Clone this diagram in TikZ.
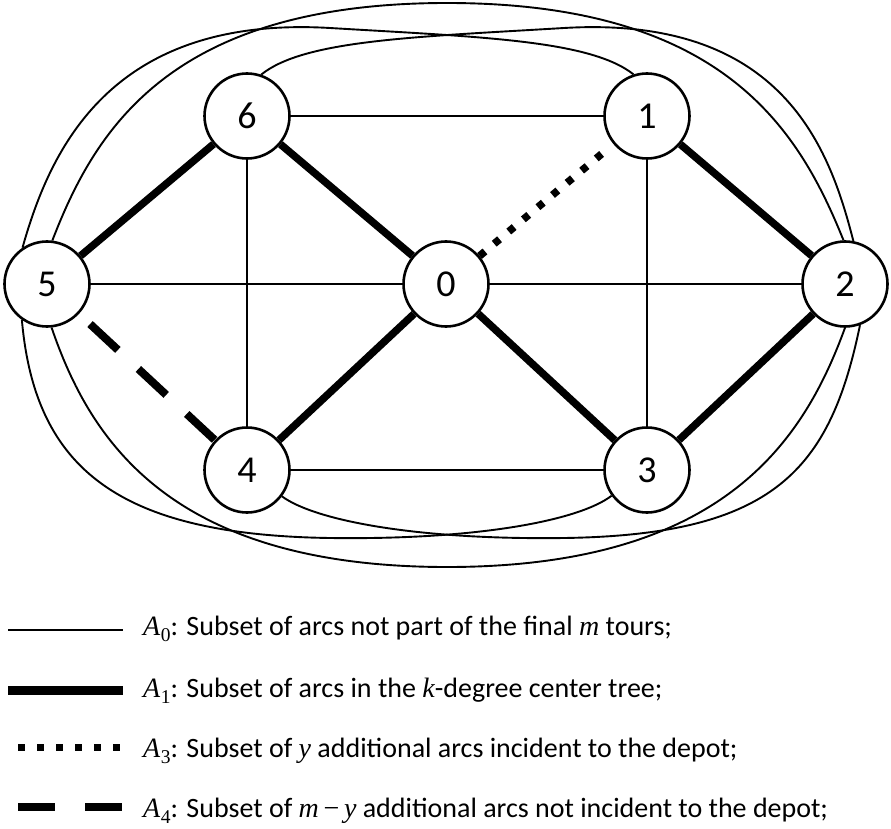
\documentclass[tikz,border=0pt]{standalone}
\usepackage{fontspec}
\setmainfont{Carlito}
\newfontfamily\varfont{Liberation Serif}
% variables in italic serif, subscripts set lower and smaller
\newcommand\mv[1]{{\varfont\itshape #1}}
\newcommand\setA[1]{\mv{A}\kern0.5pt\raisebox{-0.24em}{\varfont\fontsize{19.5}{19.5}\selectfont #1}}
\begin{document}
\begin{tikzpicture}[x=1pt,y=-1pt,
  vertex/.style={circle,draw,line width=2.6pt,minimum size=85pt,inner sep=0pt,
    fill=white,font=\fontsize{38}{38}\selectfont},
  arcA0/.style={line width=1.9pt},
  arcA1/.style={line width=7.5pt},
  arcA3/.style={line width=7.5pt,dash pattern=on 7pt off 12pt},
  arcA4/.style={line width=8pt,dash pattern=on 38pt off 28pt},
  legtext/.style={anchor=base west,inner sep=0pt,font=\fontsize{28}{33}\selectfont}]
\useasboundingbox (0,0) rectangle (891,829);

% customers and depot
\node[vertex] (n6) at (247,116) {6};
\node[vertex] (n1) at (647,116) {1};
\node[vertex] (n5) at (47,284)  {5};
\node[vertex] (n0) at (446,284) {0};
\node[vertex] (n2) at (845,284) {2};
\node[vertex] (n4) at (247,470) {4};
\node[vertex] (n3) at (647,470) {3};

% A0: straight arcs
\draw[arcA0] (n6) -- (n1);
\draw[arcA0] (n6) -- (n4);
\draw[arcA0] (n1) -- (n3);
\draw[arcA0] (n5) -- (n0);
\draw[arcA0] (n0) -- (n2);
\draw[arcA0] (n4) -- (n3);

% A0: curved arcs around the outside
\draw[arcA0] (n5.83.5) .. controls (95,130) and (170,3) .. (447,3)
                       .. controls (724,3) and (799,130) .. (n2.92.6);
\draw[arcA0] (n5.124) .. controls (50,150) and (110,15) .. (330,28)
                      .. controls (480,37) and (590,40) .. (n1.108);
\draw[arcA0] (n6.71) .. controls (304,40) and (414,37) .. (564,28)
                     .. controls (784,15) and (830,150) .. (n2.79.7);
\draw[arcA0] (n5.-84) .. controls (90,440) and (170,567) .. (447,567)
                      .. controls (724,567) and (804,440) .. (n2.-90);
\draw[arcA0] (n5.235) .. controls (35,470) and (120,535) .. (330,538)
                      .. controls (480,540) and (580,520) .. (n3.216);
\draw[arcA0] (n4.-37) .. controls (314,520) and (414,540) .. (564,538)
                      .. controls (774,535) and (830,470) .. (n2.-70);

% A1: k-degree center tree
\draw[arcA1] (n6) -- (n5);
\draw[arcA1] (n6) -- (n0);
\draw[arcA1] (n1) -- (n2);
\draw[arcA1] (n0) -- (n4);
\draw[arcA1] (n0) -- (n3);
\draw[arcA1] (n3) -- (n2);

% A3 and A4: additional arcs
\draw[arcA3,shorten >=4pt] (n0) -- (n1);
\draw[arcA4,dash phase=51pt] (n5) -- (n4);

% legend
\coordinate (l0a) at (8,630);   \coordinate (l0b) at (123,630);
\coordinate (l1a) at (8,690);   \coordinate (l1b) at (123,690);
\coordinate (l3a) at (18,747);  \coordinate (l3b) at (120,747);
\coordinate (l4a) at (18,807);  \coordinate (l4b) at (122,807);
\draw[arcA0] (l0a) -- (l0b);
\draw[arcA1,line width=9pt] (l1a) -- (l1b);
\draw[arcA3,line width=7pt] (l3a) -- (l3b);
\draw[arcA4,dash pattern=on 37pt off 30pt] (l4a) -- (l4b);
\node[legtext] (t0) at (143,635) {\setA{0}: Subset of arcs not part of the final \mv{m} tours;};
\node[legtext] (t1) at (143,697) {\setA{1}: Subset of arcs in the \mv{k}-degree center tree;};
\node[legtext] (t3) at (143,757) {\setA{3}: Subset of \mv{y} additional arcs incident to the depot;};
\node[legtext] (t4) at (143,817) {\setA{4}: Subset of \mv{m}\,{\varfont−}\,\mv{y} additional arcs not incident to the depot;};
\end{tikzpicture}
\end{document}
